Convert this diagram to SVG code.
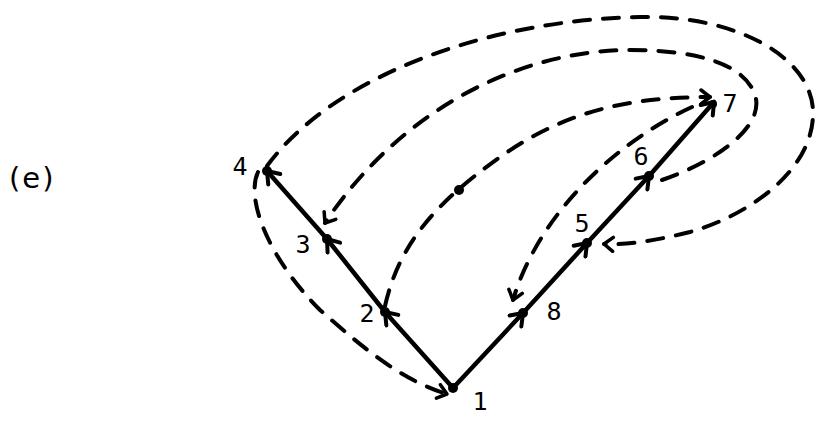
<svg xmlns="http://www.w3.org/2000/svg" width="825" height="423" viewBox="0 0 825 423">
<style>
.solid{fill:none;stroke:#000;stroke-width:4.5;stroke-linecap:round}
.dash{fill:none;stroke:#000;stroke-width:4;stroke-linecap:round;stroke-dasharray:16 13}
.dot{fill:#000}
.lbl{font-family:"DejaVu Sans Mono","Liberation Mono",monospace;font-size:25px;fill:#000;text-anchor:middle}
.cap{font-family:"DejaVu Sans","Liberation Sans",sans-serif;font-size:29px;fill:#000;letter-spacing:2px}
</style>
<defs>
<marker id="vs" viewBox="-14 -10 16 20" markerWidth="16" markerHeight="20" refX="0" refY="0" orient="auto" markerUnits="userSpaceOnUse">
<path d="M -11 -8 L 0 0 L -11 8" fill="none" stroke="#000" stroke-width="4" stroke-linecap="round" stroke-linejoin="round"/>
</marker>
<marker id="vd" viewBox="-12 -9 14 18" markerWidth="14" markerHeight="18" refX="0" refY="0" orient="auto" markerUnits="userSpaceOnUse">
<path d="M -9 -7 L 0 0 L -9 7" fill="none" stroke="#000" stroke-width="3.5" stroke-linecap="round" stroke-linejoin="round"/>
</marker>
<marker id="wd" viewBox="-2 -6 16 12" markerWidth="16" markerHeight="12" refX="0" refY="0" orient="auto-start-reverse" markerUnits="userSpaceOnUse">
<path d="M 0 0 L -12 -5 L -12 5 Z" fill="#000"/>
</marker>
</defs>
<text class="cap" x="9" y="188">(e)</text>
<g id="connectors">
<line class="solid" x1="453" y1="388" x2="385" y2="312" marker-end="url(#vs)"/>
<line class="solid" x1="385" y1="312" x2="327" y2="239" marker-end="url(#vs)"/>
<line class="solid" x1="327" y1="239" x2="267" y2="171" marker-end="url(#vs)"/>
<line class="solid" x1="453" y1="388" x2="523" y2="313" marker-end="url(#vs)"/>
<line class="solid" x1="523" y1="313" x2="587" y2="243" marker-end="url(#vs)"/>
<line class="solid" x1="587" y1="243" x2="649" y2="176" marker-end="url(#vs)"/>
<line class="solid" x1="649" y1="176" x2="714" y2="102" marker-end="url(#vs)"/>
<path class="dash" d="M 267 166 C 330 80, 480 20, 640 17 C 740 15, 815 60, 813 115 C 812 170, 750 215, 690 232 C 650 242, 625 245, 604 244" marker-end="url(#vd)"/>
<path class="dash" d="M 662 180 C 720 160, 765 125, 755 95 C 745 65, 700 50, 630 50 C 520 50, 400 110, 325 223" marker-start="url(#wd)" marker-end="url(#vd)"/>
<path class="dash" d="M 385 306 C 400 240, 440 200, 500 157 C 560 115, 620 97, 710 97" marker-end="url(#vd)"/>
<path class="dash" d="M 692 107 C 620 140, 540 210, 513 300" marker-end="url(#vd)"/>
<path class="dash" d="M 258 172 C 245 200, 270 260, 320 310 C 360 345, 400 380, 447 394" marker-end="url(#vd)"/>
</g>
<g id="n1"><circle class="dot" cx="453" cy="388" r="5"/><text class="lbl" x="480" y="410">1</text></g>
<g id="n2"><circle class="dot" cx="385" cy="312" r="5"/><text class="lbl" x="367" y="322">2</text></g>
<g id="n3"><circle class="dot" cx="327" cy="239" r="5"/><text class="lbl" x="303" y="253">3</text></g>
<g id="n4"><circle class="dot" cx="267" cy="171" r="5"/><text class="lbl" x="240" y="175">4</text></g>
<g id="n5"><circle class="dot" cx="587" cy="243" r="5"/><text class="lbl" x="582" y="232">5</text></g>
<g id="n6"><circle class="dot" cx="649" cy="176" r="5"/><text class="lbl" x="641" y="165">6</text></g>
<g id="n7"><circle class="dot" cx="713" cy="104" r="4"/><text class="lbl" x="730" y="112">7</text></g>
<g id="n8"><circle class="dot" cx="523" cy="313" r="5"/><text class="lbl" x="554" y="320">8</text></g>
<g id="n9"><circle class="dot" cx="459" cy="190" r="5"/></g>
</svg>
